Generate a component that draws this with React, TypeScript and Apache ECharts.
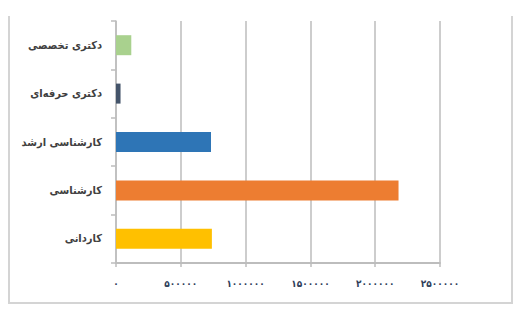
import React, { useEffect, useRef } from "react";
import * as echarts from "echarts";

const categories = ["کاردانی", "کارشناسی", "کارشناسی ارشد", "دکتری حرفه‌ای", "دکتری تخصصی"];
const values = [740000, 2180000, 733000, 35000, 118000];
const barColors = ["#ffc000", "#ed7d31", "#2e75b6", "#44546a", "#a9d18e"];
const tickValues = [0, 500000, 1000000, 1500000, 2000000, 2500000];
const tickLabels = ["۰", "۵۰۰۰۰۰", "۱۰۰۰۰۰۰", "۱۵۰۰۰۰۰", "۲۰۰۰۰۰۰", "۲۵۰۰۰۰۰"];

export default function App() {
  const ref = useRef<HTMLDivElement>(null);
  useEffect(() => {
    if (!ref.current) return;
    const chart = echarts.init(ref.current, null, { renderer: "svg" });
    chart.setOption({
      animation: false,
      backgroundColor: "#ffffff",
      textStyle: { fontFamily: "DejaVu Sans Condensed" },
      grid: { left: 116, right: 80, top: 21, bottom: 57, containLabel: false },
      graphic: [
        {
          type: "polyline",
          shape: { points: [[9, 16], [9, 303], [512, 303], [512, 16]] },
          style: { stroke: "#d4d4d4", lineWidth: 2, fill: "none" },
          silent: true,
        },
      ],
      xAxis: {
        type: "value",
        min: 0,
        max: 2500000,
        interval: 500000,
        axisLine: { show: true, lineStyle: { color: "#bdbdbd", width: 2 } },
        axisTick: { show: true, length: 4, lineStyle: { color: "#bdbdbd", width: 1.5 } },
        splitLine: { show: true, lineStyle: { color: "#bdbdbd", width: 1.5 } },
        axisLabel: {
          margin: 15,
          fontSize: 10,
          color: "#2f3e5a",
          fontWeight: "bold",
          formatter: (v: number) => {
            const i = tickValues.indexOf(v);
            return i >= 0 ? tickLabels[i] : "";
          },
        },
      },
      yAxis: {
        type: "category",
        data: categories,
        axisLine: { show: true, lineStyle: { color: "#bdbdbd", width: 1.5 } },
        axisTick: { show: true, length: 5, lineStyle: { color: "#bdbdbd", width: 1.5 } },
        splitLine: { show: false },
        axisLabel: {
          margin: 14,
          fontSize: 11,
          fontWeight: "bold",
          color: "#404040",
        },
      },
      series: [
        {
          type: "bar",
          barWidth: 20,
          data: values.map((v, i) => ({ value: v, itemStyle: { color: barColors[i] } })),
        },
      ],
    });
    return () => chart.dispose();
  }, []);
  return (
    <div
      ref={ref}
      style={{ position: "fixed", left: 0, top: 0, width: 520, height: 320 }}
    />
  );
}
